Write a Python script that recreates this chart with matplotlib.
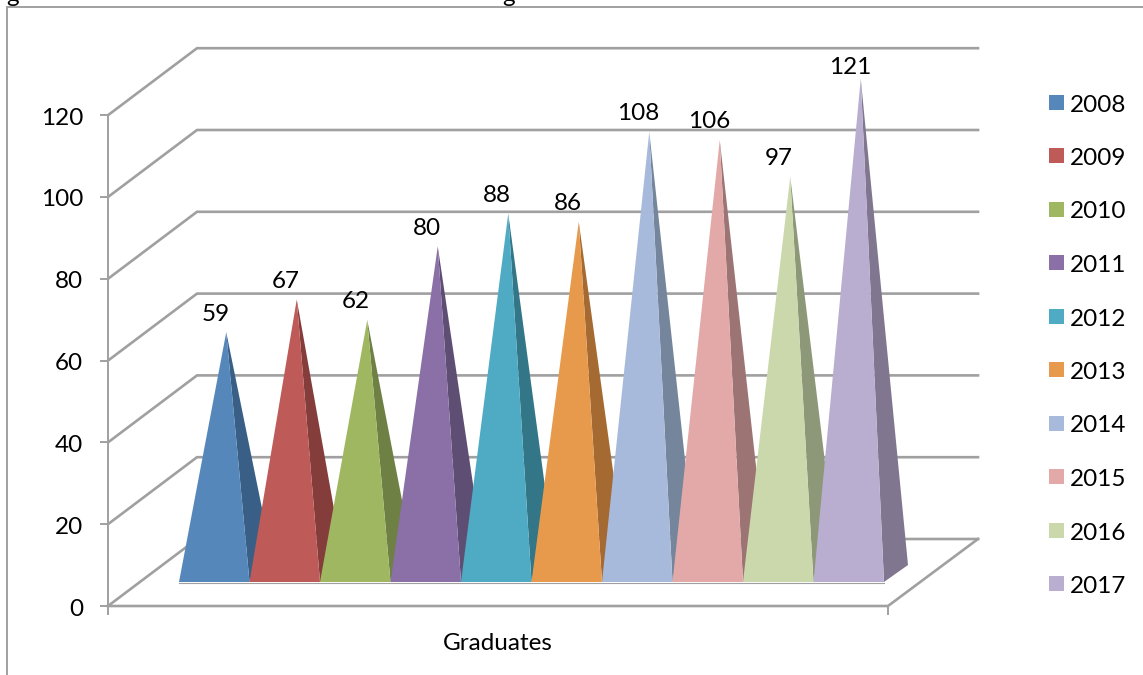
import matplotlib
matplotlib.use('Agg')
import matplotlib.pyplot as plt
from matplotlib.patches import Polygon, Rectangle

plt.rcParams['font.family'] = ['Lato', 'DejaVu Sans']

years = ['2008', '2009', '2010', '2011', '2012', '2013', '2014', '2015', '2016', '2017']
graduates = [59, 67, 62, 80, 88, 86, 108, 106, 97, 121]
y_ticks = [0, 20, 40, 60, 80, 100, 120]
category = 'Graduates'

front_colors = ['#5587BA', '#BE5A58', '#A0B761', '#8A70A6', '#4FABC4',
                '#E89A4C', '#A8BADB', '#E2A9A8', '#CBD8AC', '#B9AECF']
side_colors = ['#3A5F87', '#853D3C', '#6E8044', '#5F4E74', '#327688',
               '#A56A32', '#75859C', '#9D7474', '#8D9878', '#807690']

grey = '#A0A0A0'
font_px = 17.5

# box of the fake 3d chart, everything in figure pixels
x0, x1 = 108, 888
y_floor = 606
dx, dy = 89, -67
unit = 4.09


def front_y(v):
    return y_floor - v * unit


fig = plt.figure(figsize=(11.43, 6.75), dpi=100)
ax = fig.add_axes([0, 0, 1, 1])
ax.set_xlim(0, 1143)
ax.set_ylim(675, 0)
ax.axis('off')

# frame around the chart, cut off at the page edge
ax.plot([7, 7, 1143], [675, 7, 7], color=grey, lw=1.4, solid_joinstyle='miter')
ax.text(13, -4, 'g', fontsize=font_px, ha='center', va='center', color='black', clip_on=True)
ax.text(509, -4, 'g', fontsize=font_px, ha='center', va='center', color='black', clip_on=True)

# walls: gridlines with their slanted part on the left
for v in y_ticks:
    y = front_y(v)
    ax.plot([x0, x0 + dx, x1 + dx + 1], [y, y + dy, y + dy], color=grey, lw=1.9,
            solid_joinstyle='miter', zorder=1)
    ax.plot([x0 - 7, x0], [y, y], color=grey, lw=1.4, zorder=1)
    ax.text(83, y + 3, str(v), fontsize=font_px, ha='right', va='center')

# floor
ax.plot([x0, x1, x1 + dx + 1], [y_floor, y_floor, y_floor + dy], color=grey, lw=1.9,
        solid_joinstyle='miter', zorder=1)
ax.plot([x0, x0], [front_y(120), y_floor + 8], color=grey, lw=1.4, zorder=1)
ax.plot([x1, x1], [y_floor, y_floor + 8], color=grey, lw=1.4, zorder=1)
ax.text((x0 + x1) / 2, 644, category, fontsize=font_px, ha='center', va='center')

# pyramids, left to right so that each one hides the side of the previous
base_left = 179
base_w = 70.5
base_y = 582
depth_x, depth_y = 24, -17

ax.plot([base_left, base_left + len(graduates) * base_w], [base_y + 0.5, base_y + 0.5],
        color=grey, lw=0.8, zorder=1)

for i, v in enumerate(graduates):
    left = base_left + i * base_w
    right = left + base_w
    apex_x = (left + right) / 2 + depth_x / 2
    apex_y = base_y + depth_y / 2 - v * unit
    ax.add_patch(Polygon([(apex_x, apex_y), (right, base_y),
                          (right + depth_x, base_y + depth_y)],
                         closed=True, fc=side_colors[i], ec='none', zorder=2 + i))
    ax.add_patch(Polygon([(apex_x, apex_y), (left, base_y), (right, base_y)],
                         closed=True, fc=front_colors[i], ec='none', zorder=2 + i))
    # labels sit above the tip but stay below the top gridline
    ax.text(apex_x - 11, max(apex_y - 18, 68), str(v), fontsize=font_px,
            ha='center', va='center', zorder=20)

# legend
for i, year in enumerate(years):
    y = 102 + i * 53.5
    ax.add_patch(Rectangle((1049, y - 7.5), 15, 15, fc=front_colors[i], ec='none'))
    ax.text(1070, y + 3, year, fontsize=font_px, ha='left', va='center')

fig.savefig('out.png', dpi=100)
